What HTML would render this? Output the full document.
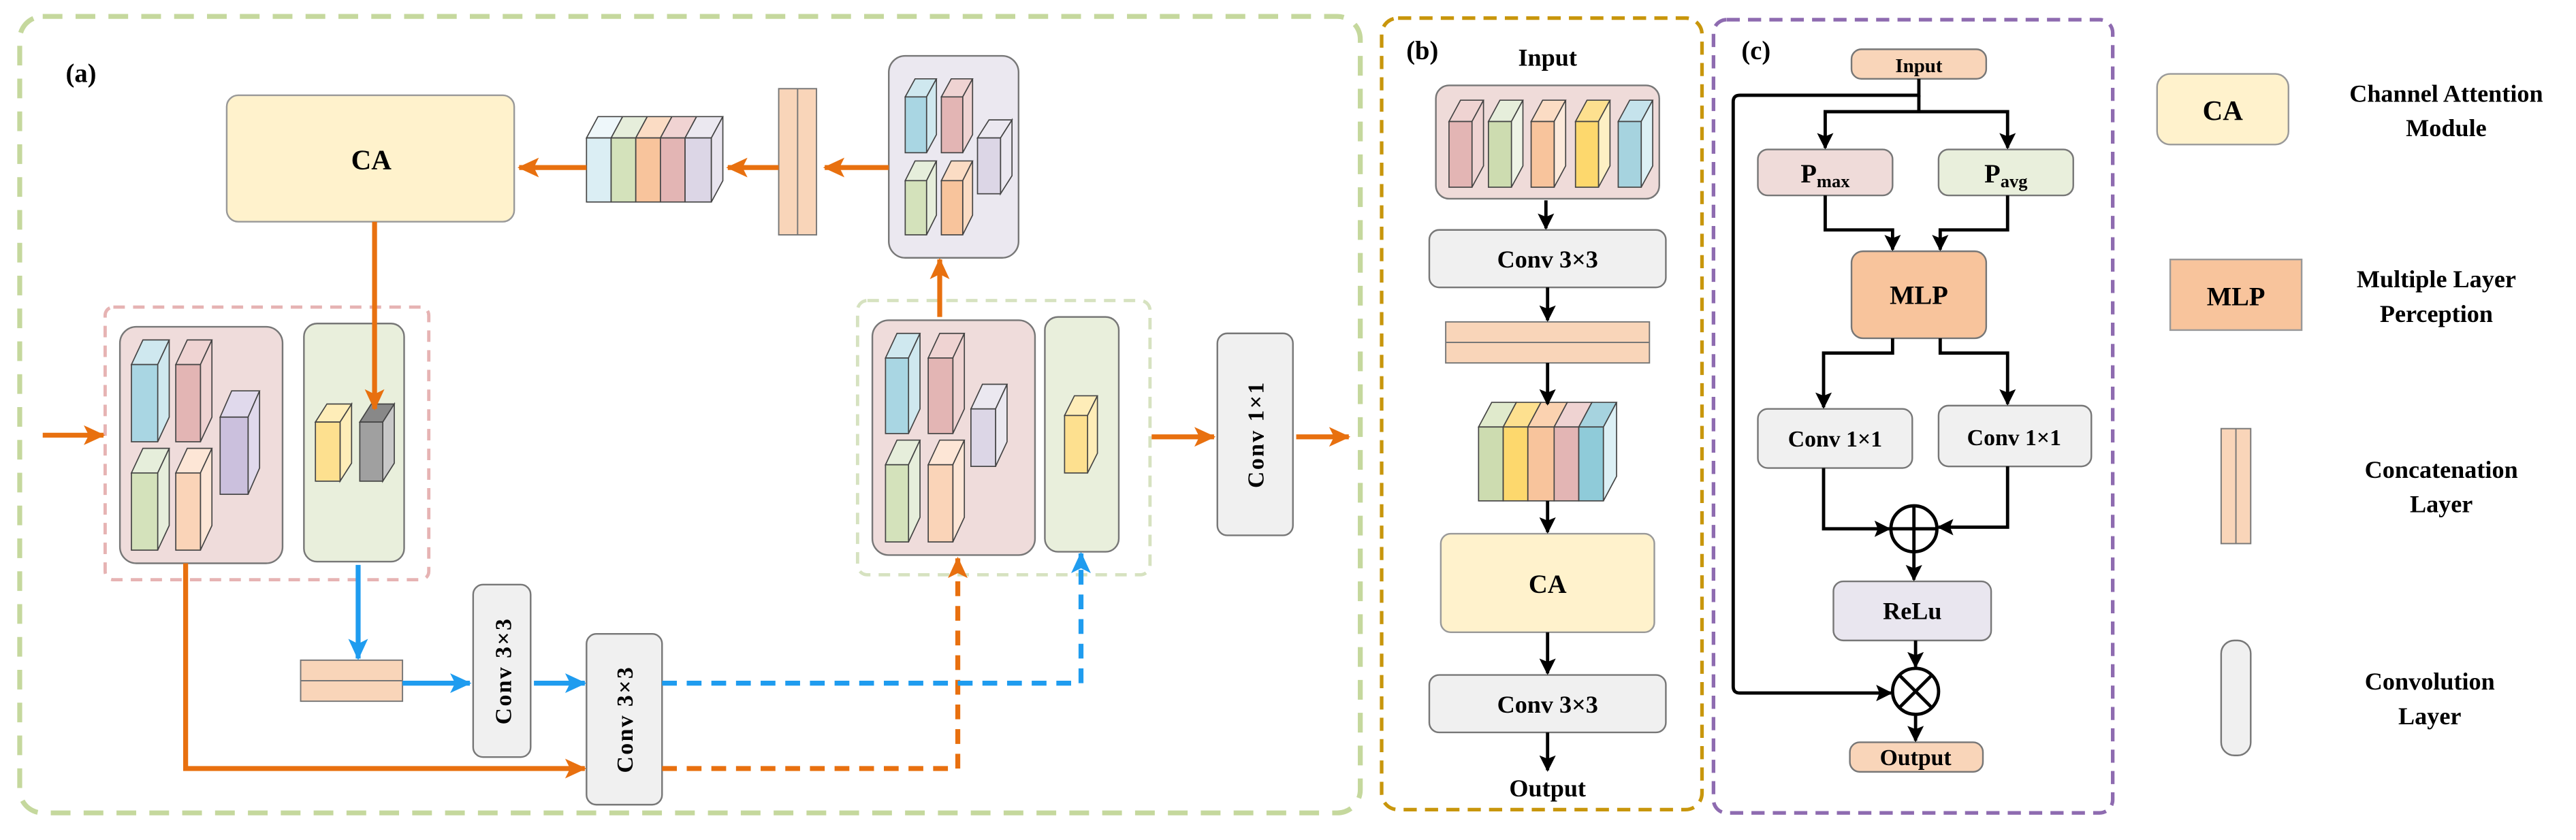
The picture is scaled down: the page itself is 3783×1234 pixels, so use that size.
<!DOCTYPE html>
<html><head><meta charset="utf-8"><style>html,body{margin:0;padding:0;background:#fff}svg{display:block}text{font-family:"Liberation Serif",serif;font-weight:bold;fill:#000}</style></head><body>
<svg width="3783" height="1234" viewBox="0 0 1568 511.5" preserveAspectRatio="none" xmlns="http://www.w3.org/2000/svg">
<defs>
<marker id="ao" markerUnits="userSpaceOnUse" markerWidth="14" markerHeight="12" refX="12" refY="6" orient="auto"><path d="M0,0 L13,6 L0,12 L3,6 Z" fill="#e8700f"/></marker>
<marker id="ab" markerUnits="userSpaceOnUse" markerWidth="14" markerHeight="12" refX="12" refY="6" orient="auto"><path d="M0,0 L13,6 L0,12 L3,6 Z" fill="#1f9cef"/></marker>
<marker id="ak" markerUnits="userSpaceOnUse" markerWidth="10" markerHeight="10" refX="9" refY="5" orient="auto"><path d="M0,0 L10,5 L0,10 L2,5 Z" fill="#000"/></marker>
</defs>
<rect x="12" y="10" width="816" height="485" rx="14" fill="none" stroke="#c5d89d" stroke-width="3" stroke-dasharray="12,8"/>
<rect x="841" y="11" width="195" height="482" rx="10" fill="none" stroke="#c8960c" stroke-width="2.2" stroke-dasharray="8,5"/>
<rect x="1043" y="12" width="243" height="483" rx="8" fill="none" stroke="#8e6bb0" stroke-width="2.2" stroke-dasharray="8,5"/>
<text x="40" y="50" font-size="16">(a)</text>
<text x="856" y="36" font-size="16">(b)</text>
<text x="1060" y="36" font-size="16">(c)</text>

<rect x="138" y="58" width="175" height="77" rx="7" fill="#fff2cc" stroke="#999"/>
<text x="226" y="103" font-size="17" text-anchor="middle">CA</text>
<rect x="541" y="34" width="79" height="123" rx="10" fill="#ebe8f0" stroke="#777"/>
<rect x="474" y="54" width="23" height="89" fill="#f9d5b9" stroke="#777" stroke-width=".8"/><line x1="485.5" y1="54" x2="485.5" y2="143" stroke="#777" stroke-width=".8"/>
<g stroke="#444" stroke-width=".7">
<polygon points="357,84 364,71 379,71 372,84" fill="#eef7fa"/><rect x="357" y="84" width="15" height="39" fill="#dbeef4"/>
<polygon points="372,84 379,71 394,71 387,84" fill="#e6eedb"/><rect x="372" y="84" width="15" height="39" fill="#d4e2bb"/>
<polygon points="387,84 394,71 409,71 402,84" fill="#fbdcc4"/><rect x="387" y="84" width="15" height="39" fill="#f8c49c"/>
<polygon points="402,84 409,71 424,71 417,84" fill="#f0d3d2"/><rect x="402" y="84" width="15" height="39" fill="#e3b5b4"/>
<polygon points="417,84 424,71 440,71 433,84" fill="#ebe8f0"/><rect x="417" y="84" width="16" height="39" fill="#dcd6e6"/>
<polygon points="433,84 440,71 440,110 433,123" fill="#e8e4ee"/>
</g>
<rect x="64" y="187" width="197" height="166" rx="5" fill="none" stroke="#e6b3b3" stroke-width="2" stroke-dasharray="7,5"/>
<rect x="73" y="199" width="99" height="144" rx="10" fill="#efdcdb" stroke="#777"/>
<rect x="185" y="197" width="61" height="145" rx="8" fill="#e9efdc" stroke="#777"/>
<rect x="522" y="183" width="178" height="167" rx="6" fill="none" stroke="#d6e2c0" stroke-width="2" stroke-dasharray="7,5"/>
<rect x="531" y="195" width="99" height="143" rx="10" fill="#efdcdb" stroke="#777"/>
<rect x="636" y="193" width="45" height="143" rx="8" fill="#e9efdc" stroke="#777"/>
<g stroke="#444" stroke-width=".7">
<polygon points="80,222 87,207 103,207 96,222" fill="#cfe8ef"/><polygon points="96,222 103,207 103,254 96,269" fill="#cfe8ef"/><rect x="80" y="222" width="16" height="47" fill="#a9d6e3"/>
<polygon points="107,222 114,207 129,207 122,222" fill="#efd3d2"/><polygon points="122,222 129,207 129,254 122,269" fill="#efd3d2"/><rect x="107" y="222" width="15" height="47" fill="#e3b5b4"/>
<polygon points="80,288 87,273 103,273 96,288" fill="#e6eedb"/><polygon points="96,288 103,273 103,320 96,335" fill="#e6eedb"/><rect x="80" y="288" width="16" height="47" fill="#d4e2bb"/>
<polygon points="107,288 114,273 129,273 122,288" fill="#fde6d6"/><polygon points="122,288 129,273 129,320 122,335" fill="#fde6d6"/><rect x="107" y="288" width="15" height="47" fill="#fad4b8"/>
<polygon points="134,254 141,238 158,238 151,254" fill="#e0d9ec"/><polygon points="151,254 158,238 158,285 151,301" fill="#e0d9ec"/><rect x="134" y="254" width="17" height="47" fill="#cbc0dd"/>
<polygon points="192,257 199,246 214,246 207,257" fill="#feedb8"/><polygon points="207,257 214,246 214,282 207,293" fill="#feedb8"/><rect x="192" y="257" width="15" height="36" fill="#fde08f"/>
<polygon points="219,257 226,246 240,246 233,257" fill="#888"/><polygon points="233,257 240,246 240,282 233,293" fill="#c8c8c8"/><rect x="219" y="257" width="14" height="36" fill="#a0a0a0"/>
<polygon points="539,218 546,203 560,203 553,218" fill="#cfe8ef"/><polygon points="553,218 560,203 560,249 553,264" fill="#cfe8ef"/><rect x="539" y="218" width="14" height="46" fill="#a9d6e3"/>
<polygon points="565,218 572,203 587,203 580,218" fill="#efd3d2"/><polygon points="580,218 587,203 587,249 580,264" fill="#efd3d2"/><rect x="565" y="218" width="15" height="46" fill="#e3b5b4"/>
<polygon points="539,283 546,268 560,268 553,283" fill="#e6eedb"/><polygon points="553,283 560,268 560,315 553,330" fill="#e6eedb"/><rect x="539" y="283" width="14" height="47" fill="#d4e2bb"/>
<polygon points="565,283 572,268 587,268 580,283" fill="#fde6d6"/><polygon points="580,283 587,268 587,315 580,330" fill="#fde6d6"/><rect x="565" y="283" width="15" height="47" fill="#fad4b8"/>
<polygon points="591,249 598,234 613,234 606,249" fill="#ebe8f0"/><polygon points="606,249 613,234 613,269 606,284" fill="#ebe8f0"/><rect x="591" y="249" width="15" height="35" fill="#dcd6e6"/>
<polygon points="648,253 654,241 668,241 662,253" fill="#feedb8"/><polygon points="662,253 668,241 668,276 662,288" fill="#feedb8"/><rect x="648" y="253" width="14" height="35" fill="#fde08f"/>
<polygon points="551,59 557,48 570,48 564,59" fill="#cfe8ef"/><polygon points="564,59 570,48 570,82 564,93" fill="#cfe8ef"/><rect x="551" y="59" width="13" height="34" fill="#a9d6e3"/>
<polygon points="573,59 579,48 592,48 586,59" fill="#efd3d2"/><polygon points="586,59 592,48 592,82 586,93" fill="#efd3d2"/><rect x="573" y="59" width="13" height="34" fill="#e3b5b4"/>
<polygon points="551,110 557,98 570,98 564,110" fill="#e6eedb"/><polygon points="564,110 570,98 570,131 564,143" fill="#e6eedb"/><rect x="551" y="110" width="13" height="33" fill="#d4e2bb"/>
<polygon points="573,110 579,98 592,98 586,110" fill="#fbdcc4"/><polygon points="586,110 592,98 592,131 586,143" fill="#fbdcc4"/><rect x="573" y="110" width="13" height="33" fill="#f8c49c"/>
<polygon points="595,84 602,73 616,73 609,84" fill="#ebe8f0"/><polygon points="609,84 616,73 616,107 609,118" fill="#ebe8f0"/><rect x="595" y="84" width="14" height="34" fill="#dcd6e6"/>
</g>
<rect x="183" y="402" width="62" height="25" fill="#f9d5b9" stroke="#777" stroke-width=".8"/><line x1="183" y1="414.5" x2="245" y2="414.5" stroke="#777" stroke-width=".8"/>
<rect x="288" y="356" width="35" height="105" rx="6" fill="#f0f0f0" stroke="#777"/>
<rect x="357" y="386" width="46" height="104" rx="6" fill="#f0f0f0" stroke="#777"/>
<rect x="741" y="203" width="46" height="123" rx="6" fill="#f0f0f0" stroke="#777"/>
<text transform="translate(311,408.5) rotate(-90)" font-size="14" text-anchor="middle" letter-spacing="1">Conv 3×3</text>
<text transform="translate(385,438) rotate(-90)" font-size="14" text-anchor="middle" letter-spacing="1">Conv 3×3</text>
<text transform="translate(769,264.5) rotate(-90)" font-size="14" text-anchor="middle" letter-spacing="1">Conv 1×1</text>
<g fill="none" stroke="#e8700f" stroke-width="3">
<line x1="541" y1="102" x2="502" y2="102" marker-end="url(#ao)"/>
<line x1="474" y1="102" x2="443" y2="102" marker-end="url(#ao)"/>
<line x1="357" y1="102" x2="316" y2="102" marker-end="url(#ao)"/>
<line x1="228" y1="135" x2="228" y2="249" marker-end="url(#ao)"/>
<line x1="26" y1="265" x2="63" y2="265" marker-end="url(#ao)"/>
<polyline points="113,343 113,468 356,468" marker-end="url(#ao)"/>
<line x1="572" y1="193" x2="572" y2="158" marker-end="url(#ao)"/>
<line x1="701" y1="266" x2="739" y2="266" marker-end="url(#ao)"/>
<line x1="789" y1="266" x2="821" y2="266" marker-end="url(#ao)"/>
<polyline points="403,468 583,468 583,340" stroke-dasharray="9,6" marker-end="url(#ao)"/>
</g>
<g fill="none" stroke="#1f9cef" stroke-width="3">
<line x1="218" y1="344" x2="218" y2="401" marker-end="url(#ab)"/>
<line x1="245" y1="416" x2="286" y2="416" marker-end="url(#ab)"/>
<line x1="325" y1="416" x2="356" y2="416" marker-end="url(#ab)"/>
<polyline points="403,416 658,416 658,337" stroke-dasharray="9,6" marker-end="url(#ab)"/>
</g>

<text x="942" y="40" font-size="15" text-anchor="middle">Input</text>
<rect x="874" y="52" width="136" height="69" rx="8" fill="#efdbd9" stroke="#777"/>
<g stroke="#444" stroke-width=".7">
<polygon points="882,74 889,61 903,61 896,74" fill="#efd3d2"/><polygon points="896,74 903,61 903,101 896,114" fill="#efd3d2"/><rect x="882" y="74" width="14" height="40" fill="#e3b5b4"/>
<polygon points="906,74 913,61 927,61 920,74" fill="#e6eedb"/><polygon points="920,74 927,61 927,101 920,114" fill="#eef3e6"/><rect x="906" y="74" width="14" height="40" fill="#cddcb0"/>
<polygon points="932,74 939,61 953,61 946,74" fill="#fbdcc4"/><polygon points="946,74 953,61 953,101 946,114" fill="#fdeadb"/><rect x="932" y="74" width="14" height="40" fill="#f8c49c"/>
<polygon points="959,74 966,61 980,61 973,74" fill="#fde08f"/><polygon points="973,74 980,61 980,101 973,114" fill="#fdf0c4"/><rect x="959" y="74" width="14" height="40" fill="#fdd86d"/>
<polygon points="985,74 992,61 1006,61 999,74" fill="#c5e3ec"/><polygon points="999,74 1006,61 1006,101 999,114" fill="#dcf0f5"/><rect x="985" y="74" width="14" height="40" fill="#a6d3df"/>
</g>
<rect x="870" y="140" width="144" height="35" rx="6" fill="#f0f0f0" stroke="#777"/>
<text x="942" y="163" font-size="15" text-anchor="middle">Conv 3×3</text>
<rect x="880" y="196" width="124" height="25" fill="#f9d5b9" stroke="#777" stroke-width=".8"/><line x1="880" y1="208.5" x2="1004" y2="208.5" stroke="#777" stroke-width=".8"/>
<g stroke="#444" stroke-width=".7">
<polygon points="900,260 908,245 923,245 915,260" fill="#e0eacc"/><rect x="900" y="260" width="15" height="45" fill="#cddcb0"/>
<polygon points="915,260 923,245 938,245 930,260" fill="#fde08f"/><rect x="915" y="260" width="15" height="45" fill="#fdd86d"/>
<polygon points="930,260 938,245 954,245 946,260" fill="#fbd2b0"/><rect x="930" y="260" width="16" height="45" fill="#f8c49c"/>
<polygon points="946,260 954,245 969,245 961,260" fill="#efd3d2"/><rect x="946" y="260" width="15" height="45" fill="#e3b5b4"/>
<polygon points="961,260 969,245 984,245 976,260" fill="#a6d3df"/><rect x="961" y="260" width="15" height="45" fill="#8fcbd9"/>
<polygon points="976,260 984,245 984,290 976,305" fill="#dcf0f5"/>
</g>
<rect x="877" y="325" width="130" height="60" rx="6" fill="#fff2cc" stroke="#999"/>
<text x="942" y="361" font-size="16" text-anchor="middle">CA</text>
<rect x="870" y="411" width="144" height="35" rx="6" fill="#f0f0f0" stroke="#777"/>
<text x="942" y="434" font-size="15" text-anchor="middle">Conv 3×3</text>
<text x="942" y="485" font-size="15" text-anchor="middle">Output</text>
<g stroke="#000" stroke-width="2" fill="none">
<line x1="941" y1="122" x2="941" y2="139" marker-end="url(#ak)"/>
<line x1="942" y1="175" x2="942" y2="195" marker-end="url(#ak)"/>
<line x1="942" y1="221" x2="942" y2="246" marker-end="url(#ak)"/>
<line x1="942" y1="305" x2="942" y2="324" marker-end="url(#ak)"/>
<line x1="942" y1="385" x2="942" y2="410" marker-end="url(#ak)"/>
<line x1="942" y1="446" x2="942" y2="469" marker-end="url(#ak)"/>
</g>

<rect x="1127" y="30" width="82" height="18" rx="6" fill="#f9d5b9" stroke="#777"/>
<text x="1168" y="44" font-size="12" text-anchor="middle">Input</text>
<rect x="1070" y="91" width="82" height="28" rx="6" fill="#efdbd9" stroke="#777"/>
<text x="1111" y="111" font-size="16" text-anchor="middle">P<tspan font-size="11" dy="3">max</tspan></text>
<rect x="1180" y="91" width="82" height="28" rx="6" fill="#e9efdc" stroke="#777"/>
<text x="1221" y="111" font-size="16" text-anchor="middle">P<tspan font-size="11" dy="3">avg</tspan></text>
<rect x="1127" y="153" width="82" height="53" rx="7" fill="#f8c49c" stroke="#777"/>
<text x="1168" y="185" font-size="16" text-anchor="middle">MLP</text>
<rect x="1070" y="249" width="94" height="36" rx="6" fill="#f0f0f0" stroke="#777"/>
<text x="1117" y="272" font-size="14" text-anchor="middle">Conv 1×1</text>
<rect x="1180" y="247" width="93" height="37" rx="6" fill="#f0f0f0" stroke="#777"/>
<text x="1226" y="271" font-size="14" text-anchor="middle">Conv 1×1</text>
<rect x="1116" y="354" width="96" height="36" rx="6" fill="#e9e6ef" stroke="#777"/>
<text x="1164" y="377" font-size="15" text-anchor="middle">ReLu</text>
<rect x="1126" y="452" width="81" height="18" rx="6" fill="#f9d5b9" stroke="#777"/>
<text x="1166" y="466" font-size="14" text-anchor="middle">Output</text>
<g stroke="#000" stroke-width="2" fill="none">
<path d="M1168,48 L1168,58 L1059,58 Q1055,58 1055,62 L1055,418 Q1055,422 1059,422 L1151,422" marker-end="url(#ak)"/>
<polyline points="1168,58 1168,68 1222,68 1222,90" marker-end="url(#ak)"/>
<polyline points="1168,68 1111,68 1111,90" marker-end="url(#ak)"/>
<polyline points="1111,119 1111,140 1152,140 1152,152" marker-end="url(#ak)"/>
<polyline points="1222,119 1222,140 1181,140 1181,152" marker-end="url(#ak)"/>
<polyline points="1152,206 1152,215 1110,215 1110,248" marker-end="url(#ak)"/>
<polyline points="1181,206 1181,215 1222,215 1222,246" marker-end="url(#ak)"/>
<polyline points="1110,285 1110,322 1150,322" marker-end="url(#ak)"/>
<polyline points="1222,284 1222,321 1180,321" marker-end="url(#ak)"/>
<line x1="1165" y1="336" x2="1165" y2="353" marker-end="url(#ak)"/>
<line x1="1166" y1="390" x2="1166" y2="406" marker-end="url(#ak)"/>
<line x1="1166" y1="435" x2="1166" y2="451" marker-end="url(#ak)"/>
<circle cx="1165" cy="322" r="14" fill="#fff"/>
<line x1="1151" y1="322" x2="1179" y2="322"/><line x1="1165" y1="308" x2="1165" y2="336"/>
<circle cx="1166" cy="421" r="14" fill="#fff"/>
<line x1="1156" y1="411" x2="1176" y2="431"/><line x1="1176" y1="411" x2="1156" y2="431"/>
</g>

<rect x="1313" y="45" width="80" height="43" rx="8" fill="#fff2cc" stroke="#999"/>
<text x="1353" y="73" font-size="17" text-anchor="middle">CA</text>
<text x="1489" y="62" font-size="15" text-anchor="middle">Channel Attention</text>
<text x="1489" y="83" font-size="15" text-anchor="middle">Module</text>
<rect x="1321" y="158" width="80" height="43" fill="#f8c49c" stroke="#999"/>
<text x="1361" y="186" font-size="16" text-anchor="middle">MLP</text>
<text x="1483" y="175" font-size="15" text-anchor="middle">Multiple Layer</text>
<text x="1483" y="196" font-size="15" text-anchor="middle">Perception</text>
<rect x="1352" y="261" width="18" height="70" fill="#f9d5b9" stroke="#777" stroke-width=".8"/><line x1="1361" y1="261" x2="1361" y2="331" stroke="#777" stroke-width=".8"/>
<text x="1486" y="291" font-size="15" text-anchor="middle">Concatenation</text>
<text x="1486" y="312" font-size="15" text-anchor="middle">Layer</text>
<rect x="1352" y="390" width="18" height="70" rx="8" fill="#f0f0f0" stroke="#777"/>
<text x="1479" y="420" font-size="15" text-anchor="middle">Convolution</text>
<text x="1479" y="441" font-size="15" text-anchor="middle">Layer</text>
</svg>
</body></html>
